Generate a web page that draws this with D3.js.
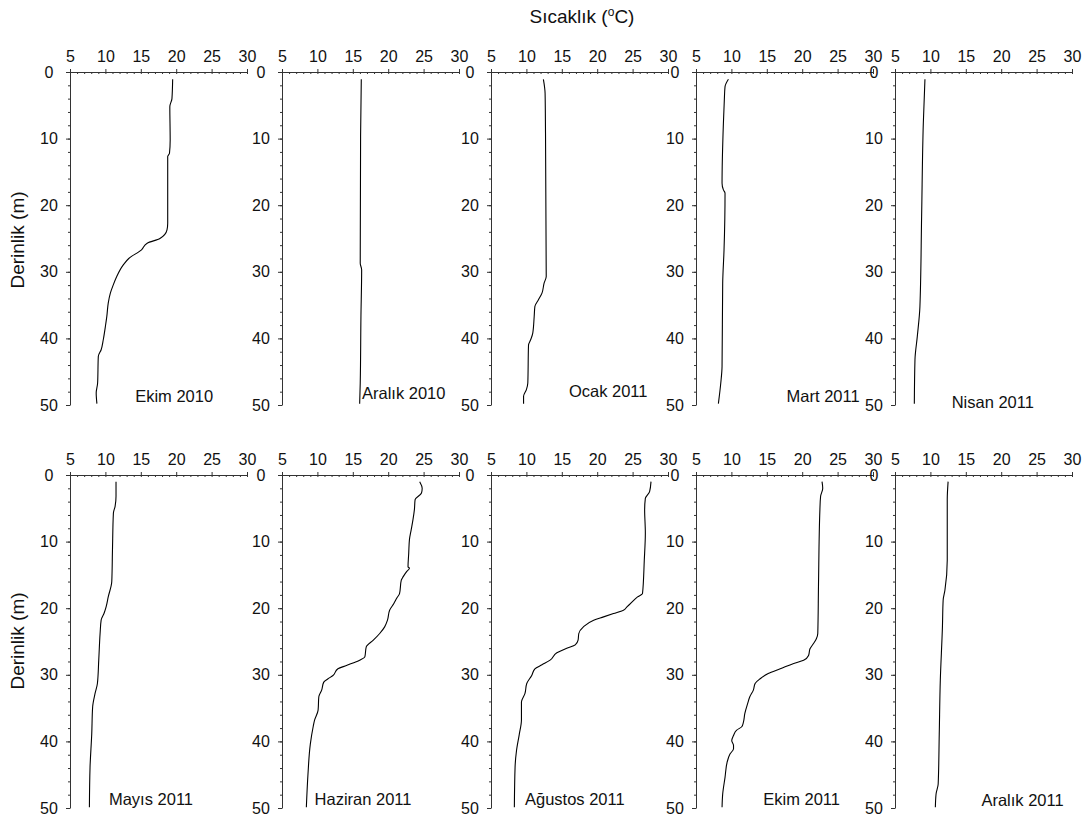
<!DOCTYPE html>
<html>
<head>
<meta charset="utf-8">
<script src="https://cdn.jsdelivr.net/npm/d3@7"></script>
<style>
  html, body { margin: 0; padding: 0; background: #fff; }
  svg { display: block; font-family: Arial, "Liberation Sans", sans-serif; }
</style>
</head>
<body>
<svg id="chart" width="1091" height="819"></svg>
<script>
// Temperature profiles: [depth (m), temperature (°C)]
const ekim2010 = [[1.1,19.5],[4,19.4],[5.2,19.1],[10.2,19.15],[12.2,19.05],[12.7,18.8],[22.7,18.8],[23.7,18.7],[25,17.7],[25.7,15.9],[26.7,15.1],[28,13.3],[29,12.5],[30.7,11.6],[32,11.1],[33.2,10.7],[34.7,10.4],[36.7,10.2],[38.2,10.0],[40.2,9.7],[41.7,9.4],[42.7,9.0],[46.7,8.9],[48.2,8.7],[49.8,8.8]];
const aralik2010 = [[1.1,16.2],[9.7,16.1],[28.7,16.05],[29.7,16.25],[36.7,16.15],[46.7,16.05],[49.8,15.97]];
const ocak2011 = [[1.1,12.4],[3.2,12.64],[9.2,12.7],[30.7,12.8],[31.7,12.5],[33.2,12.2],[34.2,11.7],[35.2,11.2],[36.7,11.1],[39.2,10.9],[40.2,10.6],[41,10.3],[46.7,10.2],[47.7,10.0],[48.7,9.6],[49.8,9.6]];
const mart2011 = [[1.1,9.58],[2.2,9.1],[4.2,9.0],[7.7,8.87],[16.7,8.68],[17.7,8.87],[18.2,9.1],[26.7,8.96],[31.7,8.77],[44.2,8.68],[46.7,8.5],[49.8,8.16]];
const nisan2011 = [[1.1,9.23],[7.7,9.0],[21.7,8.76],[35.2,8.52],[39.7,8.15],[43.2,7.82],[49.8,7.73]];
const mayis2011 = [[1.0,11.5],[3.2,11.5],[4.7,11.37],[5.7,11.13],[11.2,11.0],[16,10.9],[18.3,10.4],[19.8,10.1],[20.8,9.8],[21.8,9.4],[23.8,9.25],[27.8,9.06],[31.3,8.87],[32.8,8.54],[34.8,8.2],[38.9,8.07],[43.9,7.83],[49.9,7.74]];
const haziran2011 = [[1.0,24.45],[2,24.8],[2.7,24.7],[3.7,23.8],[5.2,23.7],[6.7,23.5],[8.2,23.25],[9.7,23.0],[11.7,22.9],[13.8,22.8],[14,23.0],[14.5,22.6],[15.3,22.1],[15.8,21.85],[17.8,21.6],[18.5,21.2],[19.3,20.8],[20.3,20.2],[21.8,19.9],[22.8,19.5],[23.8,18.8],[24.8,17.9],[25.8,16.9],[27.3,16.7],[27.8,15.97],[28.6,14.1],[29.1,12.9],[30.1,12.2],[30.6,11.5],[31.1,10.9],[32.3,10.6],[33.3,10.2],[35.3,10.1],[36.8,9.6],[37.8,9.4],[40.4,9.0],[44.9,8.67],[49.9,8.44]];
const agustos2011 = [[1.0,27.6],[2.5,27.4],[3.5,26.8],[5.2,26.7],[8.7,26.8],[12.8,26.65],[17.8,26.4],[18.3,25.7],[19.1,24.9],[19.8,24.2],[20.3,23.7],[20.8,22.3],[21.3,20.9],[21.8,19.5],[22.8,18.05],[23.8,17.4],[24.8,17.3],[25.5,16.9],[26,15.7],[26.7,14.3],[27.8,13.35],[28.5,12.2],[29.1,11.2],[30.1,10.75],[31.3,10.05],[32.8,9.8],[34.1,9.3],[36.8,9.3],[38.9,9.0],[41.4,8.6],[43.9,8.4],[49.9,8.3]];
const ekim2011 = [[1.0,22.8],[2,22.9],[3.2,22.6],[5.2,22.5],[16.7,22.3],[23.8,22.2],[24.6,22.0],[25.3,21.6],[26.1,21.1],[27.1,20.9],[27.8,20.2],[28.3,18.8],[29.1,16.9],[29.8,15.2],[30.6,14.06],[31.3,13.35],[32.3,13.1],[33.3,12.6],[34.3,12.3],[35.8,11.9],[37.1,11.7],[37.8,11.46],[38.3,10.75],[39.1,10.3],[39.9,10.05],[40.6,10.3],[41.1,10.3],[41.9,9.8],[43.1,9.4],[45.4,9.1],[47.9,8.77],[49.9,8.68]];
const aralik2011 = [[1.0,12.5],[3.7,12.38],[12.8,12.38],[17.3,12.05],[18.8,11.8],[22.8,11.7],[30.8,11.4],[38.9,11.25],[46.4,11.1],[47.9,10.8],[49.9,10.7]];

const panelNames = ["Ekim 2010","Aralık 2010","Ocak 2011","Mart 2011","Nisan 2011",
                    "Mayıs 2011","Haziran 2011","Ağustos 2011","Ekim 2011","Aralık 2011"];
const profiles = [ekim2010, aralik2010, ocak2011, mart2011, nisan2011,
                  mayis2011, haziran2011, agustos2011, ekim2011, aralik2011];

const tempTicks = [5, 10, 15, 20, 25, 30];
const depthTicks = [0, 10, 20, 30, 40, 50];
const tempDomain = [5, 30];
const depthDomain = [0, 50];

// Layout
const colLeft = [70, 282, 491, 696, 895];
const rowTop = [72, 475];
const panelW = 177, panelH = 333;
// where each month label sits, in panel (°C, m) coordinates; left edge of text
const labelAt = [[14.2,49.5],[16.3,49.1],[16.0,48.8],[17.8,49.5],[13.0,50.5],
                 [10.5,49.6],[9.6,49.6],[9.8,49.6],[14.5,49.6],[17.2,49.7]];

const svg = d3.select("#chart");
const axisColor = "#333";

profiles.forEach((prof, i) => {
  const row = Math.floor(i / 5), col = i % 5;
  const g = svg.append("g")
    .attr("transform", `translate(${colLeft[col]},${rowTop[row]})`);

  const x = d3.scaleLinear().domain(tempDomain).range([0, panelW]);
  const y = d3.scaleLinear().domain(depthDomain).range([0, panelH]);

  // top temperature axis: minor ticks below, major ticks above
  g.append("g")
    .call(d3.axisTop(x).tickValues(d3.range(5, 31, 1)).tickSize(-2).tickFormat(""))
    .call(s => s.select(".domain").remove())
    .call(s => s.selectAll("line").attr("stroke", axisColor));
  g.append("g")
    .call(d3.axisTop(x).tickValues(tempTicks).tickSize(3).tickPadding(7).tickSizeOuter(0))
    .call(s => s.select(".domain").attr("stroke", axisColor))
    .call(s => s.selectAll("line").attr("stroke", axisColor))
    .call(s => s.selectAll("text").attr("font-size", 16).attr("fill", "#111")
      .attr("font-family", "Arial, 'Liberation Sans', sans-serif"));

  // left depth axis
  g.append("g")
    .call(d3.axisLeft(y).tickValues(d3.range(0, 51, 2)).tickSize(2).tickFormat(""))
    .call(s => s.select(".domain").remove())
    .call(s => s.selectAll("line").attr("stroke", axisColor));
  g.append("g")
    .call(d3.axisLeft(y).tickValues(depthTicks).tickSize(4).tickSizeOuter(0))
    .call(s => s.select(".domain").attr("stroke", axisColor))
    .call(s => s.selectAll("line").attr("stroke", axisColor))
    .call(s => s.selectAll("text").attr("font-size", 16).attr("fill", "#111")
      .attr("text-anchor", "middle").attr("x", -21)
      .attr("font-family", "Arial, 'Liberation Sans', sans-serif"));

  // profile
  const line = d3.line()
    .x(d => x(d[1]))
    .y(d => y(d[0]))
    .curve(d3.curveMonotoneY);
  g.append("path")
    .datum(prof)
    .attr("fill", "none")
    .attr("stroke", "#000")
    .attr("stroke-width", 1.1)
    .attr("d", line);

  // month label
  g.append("text")
    .attr("x", x(labelAt[i][0]))
    .attr("y", y(labelAt[i][1]))
    .attr("font-size", 16.5)
    .attr("fill", "#111")
    .text(panelNames[i]);
});

// axis titles
const title = svg.append("text")
  .attr("x", 582).attr("y", 23)
  .attr("text-anchor", "middle")
  .attr("font-size", 19)
  .attr("fill", "#111");
title.append("tspan").text("Sıcaklık (");
title.append("tspan").attr("font-size", 12).attr("dy", -7).text("o");
title.append("tspan").attr("dy", 7).text("C)");

[240, 641].forEach(cy => {
  svg.append("text")
    .attr("transform", `translate(24,${cy}) rotate(-90)`)
    .attr("text-anchor", "middle")
    .attr("font-size", 19)
    .attr("fill", "#111")
    .text("Derinlik (m)");
});
</script>
</body>
</html>
